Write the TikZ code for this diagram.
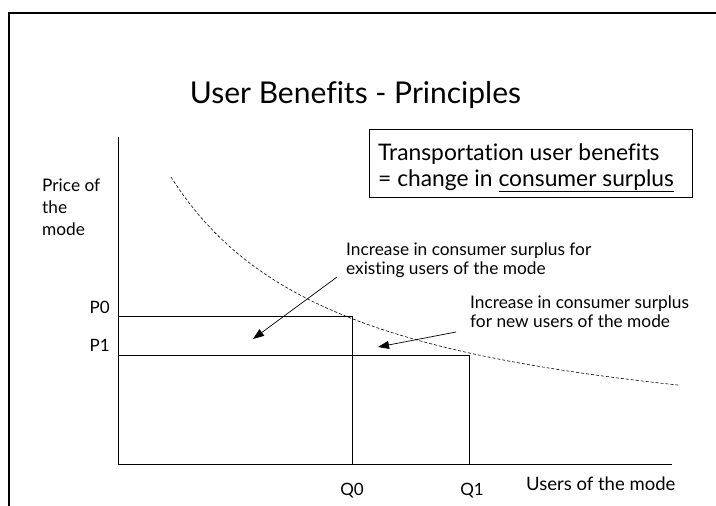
\documentclass[tikz,border=0pt]{standalone}
\usepackage{fontspec}
\setmainfont{Lato}[Ligatures={NoCommon}]
\usetikzlibrary{arrows.meta}
\begin{document}
\begin{tikzpicture}[x=1pt,y=-1pt,
  lbl/.style={inner sep=0pt, anchor=base west, font=\fontsize{17.3}{19}\selectfont},
  axlbl/.style={inner sep=0pt, font=\fontsize{17}{19}\selectfont},
  boxtxt/.style={inner sep=0pt, anchor=base west, font=\fontsize{22.8}{26}\selectfont},
  ax/.style={line width=0.8pt},
  arr/.style={line width=0.7pt, -{Triangle[length=11pt,width=8pt]}},
  demand/.style={line width=0.6pt, dash pattern=on 3pt off 2pt}]
\useasboundingbox (0,0) rectangle (716,506);
% frame
\coordinate (fb) at (9,506);
\coordinate (fc) at (9,13);
\coordinate (fr) at (716,13);
\draw[line width=1.2pt] (fb) -- (fc) -- (fr);
% title
\node[inner sep=0pt, anchor=base, font=\fontsize{30}{34}\selectfont] (title) at (355.5,103) {User Benefits - Principles};
% axes
\coordinate (O) at (118,464);
\coordinate (ytop) at (118,137);
\coordinate (xend) at (672,464);
\draw[ax] (ytop) -- (O) -- (xend);
\coordinate (p0l) at (118,316.5);
\coordinate (p0r) at (352,316.5);
\coordinate (p1l) at (118,355);
\coordinate (p1r) at (469,355);
\coordinate (q0b) at (352,464);
\coordinate (q1b) at (469,464);
\draw[ax] (p0l) -- (p0r) -- (q0b);
\draw[ax] (p1l) -- (p1r) -- (q1b);
% demand curve
\draw[demand] plot[domain=171:678, samples=90] (\x, {458.3 - 502.33/((\x+7.6)/100)});
% box
\node[draw, line width=0.8pt, anchor=north west, minimum width=323pt, minimum height=68pt, inner sep=0pt] (box) at (369,129) {};
\node[boxtxt] (b1) at (378,160) {Transportation user benefits};
\node[boxtxt] (b2) at (378,186) {= change in \underline{consumer surplus}};
% axis labels
\node[lbl] (pr1) at (42,191) {Price of};
\node[lbl] (pr2) at (42,213) {the};
\node[lbl] (pr3) at (42,235) {mode};
\node[axlbl, anchor=base east] (P0) at (110,313) {P0};
\node[axlbl, anchor=base east] (P1) at (110,351) {P1};
\node[axlbl, anchor=base] (Q0) at (352,495) {Q0};
\node[axlbl, anchor=base] (Q1) at (472,495) {Q1};
\node[lbl, font=\fontsize{18.5}{20}\selectfont] (users) at (526,490) {Users of the mode};
% annotations
\node[lbl] (e1) at (346,255) {Increase in consumer surplus for};
\node[lbl] (e2) at (346,274) {existing users of the mode};
\node[lbl] (n1) at (470,308) {Increase in consumer surplus};
\node[lbl] (n2) at (470,327) {for new users of the mode};
% arrows
\coordinate (a1s) at (337,277);
\coordinate (a1e) at (253,339);
\coordinate (a2s) at (456,332);
\coordinate (a2e) at (378,347);
\draw[arr] (a1s) -- (a1e);
\draw[arr] (a2s) -- (a2e);
\end{tikzpicture}
\end{document}
